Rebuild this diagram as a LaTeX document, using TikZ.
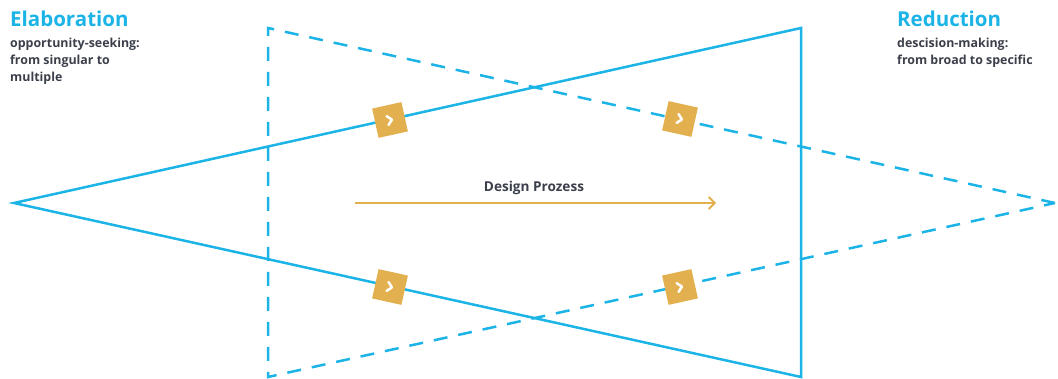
\documentclass[tikz,border=0pt]{standalone}
\usepackage{fontspec}
\setmainfont{Open Sans}
\usetikzlibrary{arrows.meta,calc}
\definecolor{cblue}{HTML}{1CB4E6}
\definecolor{corange}{HTML}{E3B04F}
\definecolor{cdark}{HTML}{3A3F4A}
\tikzset{
  solidline/.style={draw=cblue, line width=2.5pt, line join=miter},
  dashline/.style={draw=cblue, line width=2.5pt, dash pattern=on 14pt off 11pt},
  chev/.style={fill=corange, minimum size=30pt, inner sep=0pt,
    path picture={\draw[white, line width=2.5pt, line cap=round, line join=round]
      ($(path picture bounding box.center)+(-2.5,-4.5)$) -- ++(4.5,4.5) -- ++(-4.5,4.5);}},
  title/.style={anchor=base west, text=cblue, font=\bfseries\fontsize{20.5}{24}\selectfont, inner sep=0pt},
  sub/.style={anchor=base west, text=cdark, font=\bfseries\fontsize{12.4}{17}\selectfont, inner sep=0pt, align=left},
}
\begin{document}
\begin{tikzpicture}[x=1pt,y=-1pt]
\useasboundingbox (0,0) rectangle (1058,379);
% solid triangle
\coordinate (sL) at (14,203);
\coordinate (sT) at (801,28);
\coordinate (sB) at (801,377);
% dashed triangle
\coordinate (dT) at (268,28);
\coordinate (dB) at (268,377);
\coordinate (dR) at (1055,203);
\draw[solidline] (sL) -- (sT) -- (sB) -- cycle;
\draw[dashline] (dR) -- (dT) -- (dB) -- cycle;
% arrow
\coordinate (a1) at (355,203);
\coordinate (a2) at (716,203);
\draw[corange, line width=1.8pt, -{Straight Barb[length=6pt,width=12pt,line width=1.8pt]}] (a1) -- (a2);
\node[text=cdark, font=\bfseries\fontsize{13.6}{15}\selectfont, anchor=base] (lbl) at (534,192) {Design Prozess};
% squares
\node[chev, rotate=12.5] (q1) at (390,120) {};
\node[chev, rotate=-12.5] (q2) at (680,119) {};
\node[chev, rotate=-12.5] (q3) at (390,287) {};
\node[chev, rotate=12.5] (q4) at (680,287) {};
% texts
\node[title] (t1) at (10,27) {Elaboration};
\node[sub] (s1a) at (10,48) {opportunity-seeking:};
\node[sub] (s1b) at (10,65) {from singular to};
\node[sub] (s1c) at (10,82) {multiple};
\node[title] (t2) at (897,27) {Reduction};
\node[sub] (s2a) at (897,48) {descision-making:};
\node[sub] (s2b) at (897,65) {from broad to specific};
\end{tikzpicture}
\end{document}
